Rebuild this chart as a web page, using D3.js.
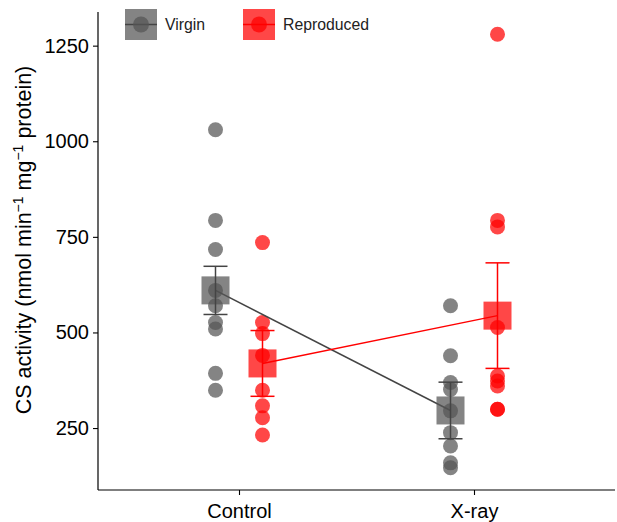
<!DOCTYPE html>
<html><head><meta charset="utf-8">
<script src="https://cdn.jsdelivr.net/npm/d3@7"></script>
<style>body{margin:0;background:#fff}svg{display:block;font-family:"Liberation Sans",Arial,sans-serif}</style>
</head><body><svg id="c" width="617" height="522"></svg>
<script>
const treatments = ["Control", "X-ray"];
const groups = ["Virgin", "Reproduced"];
const colors = ["#555555", "#ff0000"];
const lineColors = ["#444444", "#ff0000"];
const controlVirgin = [1030, 793, 717, 610, 570, 526, 509, 393, 349];
const controlReproduced = [735, 526, 497, 440, 349, 308, 277, 232];
const xrayVirgin = [570, 439, 369, 351, 295, 238, 203, 159, 146];
const xrayReproduced = [1280, 793, 776, 513, 386, 373, 360, 299, 299];
const meansVirgin = [610, 296];
const meansReproduced = [419, 544];
const seVirgin = [63, 74];
const seReproduced = [86, 138];
const yTicks = [250, 500, 750, 1000, 1250];

const raw = [[controlVirgin, xrayVirgin], [controlReproduced, xrayReproduced]];
const means = [meansVirgin, meansReproduced];
const ses = [seVirgin, seReproduced];

const svg = d3.select("#c");
const m = {l: 98, r: 2, t: 12, b: 32};
const W = 617, H = 522;
const y = d3.scaleLinear().domain([88, 1338]).range([H - m.b, m.t]);
const xs = d3.scalePoint().domain(treatments).range([m.l, W - m.r]).padding(0.6);
const dodge = d3.scalePoint().domain(groups).range([-23.5, 23.5]);

// axes
const yAxis = svg.append("g").attr("transform", `translate(${m.l},0)`)
  .call(d3.axisLeft(y).tickValues(yTicks).tickFormat(d3.format("d")).tickSize(5).tickPadding(4));
const xAxis = svg.append("g").attr("transform", `translate(0,${H - m.b})`)
  .call(d3.axisBottom(xs).tickSize(5).tickPadding(6));
[yAxis, xAxis].forEach(g => {
  g.selectAll("text").attr("font-size", 20).attr("fill", "#000").attr("font-family", '"Liberation Sans",Arial,sans-serif');
  g.selectAll("line").attr("stroke", "#000").attr("stroke-width", 1.1);
  g.select(".domain").remove();
});
svg.append("line").attr("x1", m.l).attr("x2", m.l).attr("y1", m.t).attr("y2", H - m.b).attr("stroke", "#000").attr("stroke-width", 1.2);
svg.append("line").attr("x1", m.l).attr("x2", W - m.r).attr("y1", H - m.b).attr("y2", H - m.b).attr("stroke", "#000").attr("stroke-width", 1.2);
xAxis.selectAll("text").attr("dy", "0.85em");

// y title
const yt = svg.append("text").attr("transform", `translate(31,${(m.t + H - m.b) / 2 - 11}) rotate(-90)`)
  .attr("text-anchor", "middle").attr("font-size", 21.5).attr("fill", "#000");
yt.append("tspan").text("CS activity (nmol min");
yt.append("tspan").text("\u22121").attr("font-size", 14).attr("dy", -8);
yt.append("tspan").text(" mg").attr("dy", 8);
yt.append("tspan").text("\u22121").attr("font-size", 14).attr("dy", -8);
yt.append("tspan").text(" protein)").attr("dy", 8);

const px = (gi, ti) => xs(treatments[ti]) + dodge(groups[gi]);

// raw points
groups.forEach((g, gi) => {
  treatments.forEach((t, ti) => {
    svg.append("g").selectAll("circle").data(raw[gi][ti]).join("circle")
      .attr("cx", px(gi, ti)).attr("cy", d => y(d)).attr("r", 7.5)
      .attr("fill", colors[gi]).attr("fill-opacity", 0.72);
  });
});

// summary lines, squares, error bars
groups.forEach((g, gi) => {
  const line = d3.line().x((d, ti) => px(gi, ti)).y(d => y(d));
  svg.append("path").attr("d", line(means[gi])).attr("fill", "none")
    .attr("stroke", lineColors[gi]).attr("stroke-width", 1.5);
  treatments.forEach((t, ti) => {
    const cx = px(gi, ti), mv = means[gi][ti], se = ses[gi][ti];
    svg.append("rect").attr("x", cx - 14).attr("y", y(mv) - 14).attr("width", 28).attr("height", 28)
      .attr("fill", colors[gi]).attr("fill-opacity", 0.72);
    const eg = svg.append("g").attr("stroke", lineColors[gi]).attr("stroke-width", 1.5);
    eg.append("line").attr("x1", cx).attr("x2", cx).attr("y1", y(mv + se)).attr("y2", y(mv - se));
    [mv + se, mv - se].forEach(v => eg.append("line").attr("x1", cx - 12).attr("x2", cx + 12).attr("y1", y(v)).attr("y2", y(v)));
  });
});

// legend
const leg = svg.append("g");
const legX = [125, 243];
groups.forEach((g, gi) => {
  const lg = leg.append("g").attr("transform", `translate(${legX[gi]},9)`);
  lg.append("rect").attr("width", 32).attr("height", 31).attr("fill", colors[gi]).attr("fill-opacity", 0.72);
  lg.append("line").attr("x1", 0).attr("x2", 32).attr("y1", 15.5).attr("y2", 15.5).attr("stroke", lineColors[gi]).attr("stroke-width", 1.5);
  lg.append("circle").attr("cx", 16).attr("cy", 15.5).attr("r", 8).attr("fill", colors[gi]).attr("fill-opacity", 0.72);
  lg.append("text").attr("x", 40).attr("y", 15.5).attr("dy", "0.35em").attr("font-size", 15.8).attr("fill", "#222").text(g);
});
</script></body></html>
